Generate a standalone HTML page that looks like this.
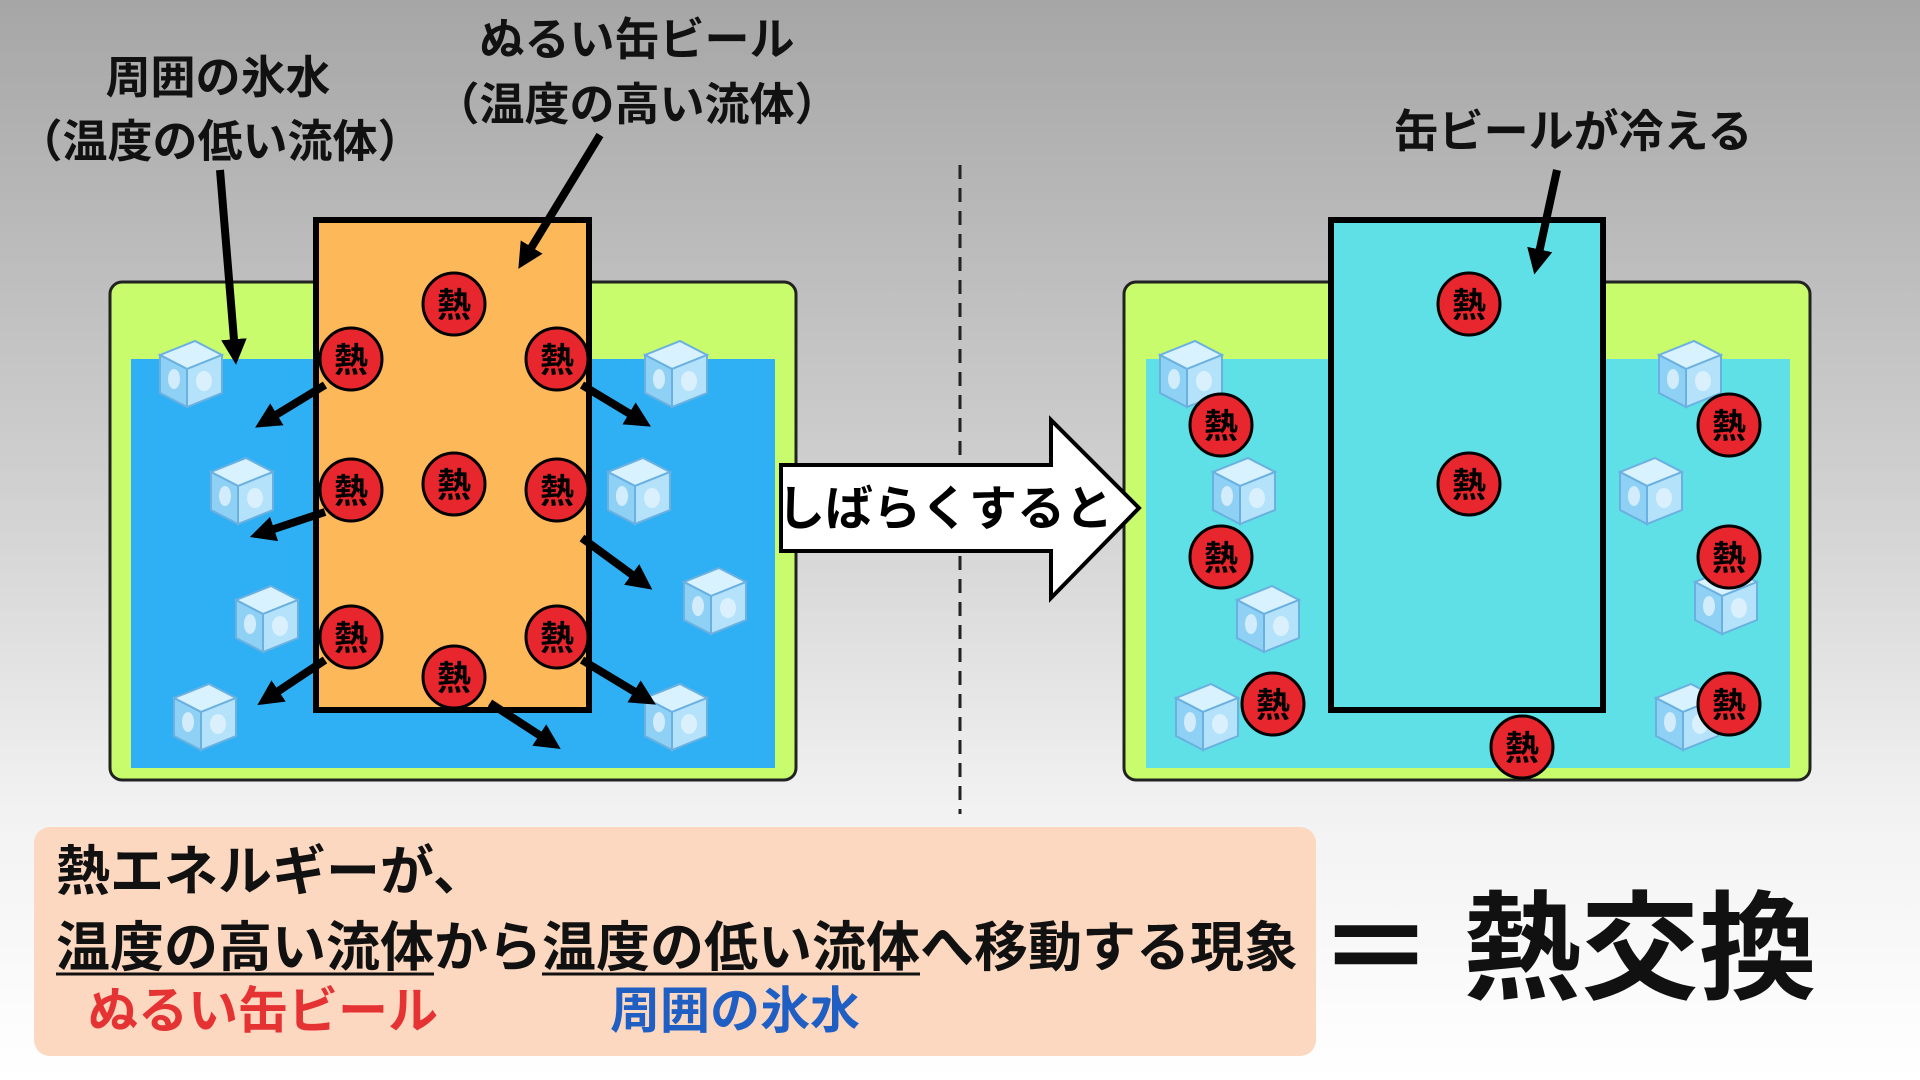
<!DOCTYPE html>
<html><head><meta charset="utf-8"><style>
html,body{margin:0;padding:0;width:1920px;height:1080px;overflow:hidden}
body{background:linear-gradient(#a6a6a6 0%,#d0d0d0 45%,#f2f2f2 75%,#ffffff 100%)}
svg{position:absolute;left:0;top:0}
text{font-family:"Liberation Sans","Noto Sans CJK JP",sans-serif;font-weight:bold}
</style></head><body>
<svg width="1920" height="1080" viewBox="0 0 1920 1080">
<defs>
<marker id="ah" viewBox="0 0 10 10" refX="5" refY="5" markerWidth="3.2" markerHeight="3.2" orient="auto">
<path d="M0,0 L10,5 L0,10 z" fill="#000"/></marker>
<g id="ice">
<polygon points="-30,-18 5,-32 32,-18 -3,-4" fill="#d8f2ff" stroke="#6ab0e0" stroke-width="2"/>
<polygon points="-30,-18 -3,-4 -3,34 -30,20" fill="#8fd0f5" stroke="#6ab0e0" stroke-width="2"/>
<polygon points="-3,-4 32,-18 32,20 -3,34" fill="#b4e2fb" stroke="#6ab0e0" stroke-width="2"/>
<ellipse cx="-16" cy="6" rx="6" ry="10" fill="#fff" opacity="0.6"/>
<ellipse cx="14" cy="8" rx="8" ry="10" fill="#fff" opacity="0.5"/>
</g>
<g id="heat">
<circle r="31" fill="#e8262d" stroke="#000" stroke-width="3"/>
<text x="0" y="13" text-anchor="middle" font-size="34" fill="#000">熱</text>
</g>
</defs>

<rect x="110" y="282" width="686" height="498" rx="12" fill="#c8fc6c" stroke="#222" stroke-width="3"/>
<rect x="131" y="359" width="644" height="409" fill="#2fb0f5"/>
<rect x="1124" y="282" width="686" height="498" rx="12" fill="#c8fc6c" stroke="#222" stroke-width="3"/>
<rect x="1146" y="359" width="644" height="409" fill="#5fdfe6"/>

<use href="#ice" x="190" y="373"/><use href="#ice" x="241" y="490"/><use href="#ice" x="266" y="618"/><use href="#ice" x="204" y="716"/>
<use href="#ice" x="675" y="373"/><use href="#ice" x="638" y="490"/><use href="#ice" x="714" y="600"/><use href="#ice" x="675" y="716"/>
<use href="#ice" x="1190" y="373"/><use href="#ice" x="1243" y="490"/><use href="#ice" x="1267" y="618"/><use href="#ice" x="1206" y="716"/>
<use href="#ice" x="1689" y="373"/><use href="#ice" x="1650" y="490"/><use href="#ice" x="1725" y="600"/><use href="#ice" x="1686" y="716"/>

<rect x="316" y="220" width="273" height="490" fill="#fdb85a" stroke="#000" stroke-width="6"/>
<rect x="1331" y="220" width="272" height="490" fill="#5fdfe6" stroke="#000" stroke-width="6"/>

<g stroke="#000" stroke-width="8" marker-end="url(#ah)" fill="none">
<line x1="325" y1="385" x2="266" y2="421"/>
<line x1="325" y1="512" x2="262" y2="533"/>
<line x1="325" y1="660" x2="268" y2="698"/>
<line x1="582" y1="385" x2="640" y2="420"/>
<line x1="582" y1="538" x2="642" y2="582"/>
<line x1="582" y1="660" x2="645" y2="698"/>
<line x1="490" y1="703" x2="550" y2="742"/>
<line x1="220" y1="170" x2="235" y2="352"/>
<line x1="600" y1="135" x2="525" y2="258"/>
<line x1="1557" y1="170" x2="1537" y2="262"/>
</g>

<use href="#heat" x="454" y="304"/><use href="#heat" x="351" y="359"/><use href="#heat" x="557" y="359"/>
<use href="#heat" x="351" y="490"/><use href="#heat" x="454" y="484"/><use href="#heat" x="557" y="490"/>
<use href="#heat" x="351" y="637"/><use href="#heat" x="557" y="637"/><use href="#heat" x="454" y="677"/>
<use href="#heat" x="1469" y="304"/><use href="#heat" x="1469" y="484"/>
<use href="#heat" x="1221" y="425"/><use href="#heat" x="1729" y="425"/>
<use href="#heat" x="1221" y="557"/><use href="#heat" x="1729" y="557"/>
<use href="#heat" x="1273" y="704"/><use href="#heat" x="1729" y="704"/>
<use href="#heat" x="1522" y="747"/>

<line x1="960" y1="165" x2="960" y2="814" stroke="#222" stroke-width="3" stroke-dasharray="14,9"/>

<polygon points="781,465 1051,465 1051,420 1139,508 1051,598 1051,551 781,551" fill="#fff" stroke="#000" stroke-width="4"/>
<text x="945" y="525" text-anchor="middle" font-size="48" fill="#000">しばらくすると</text>

<text x="218" y="93" text-anchor="middle" font-size="45" fill="#111">周囲の氷水</text>
<text x="220" y="157" text-anchor="middle" font-size="45" fill="#111">（温度の低い流体）</text>
<text x="637" y="55" text-anchor="middle" font-size="45" fill="#111">ぬるい缶ビール</text>
<text x="637" y="120" text-anchor="middle" font-size="45" fill="#111">（温度の高い流体）</text>
<text x="1573" y="147" text-anchor="middle" font-size="45" fill="#111">缶ビールが冷える</text>

<rect x="34" y="827" width="1282" height="229" rx="16" fill="#fdd8c0"/>
<text x="56" y="890" font-size="54" fill="#111">熱エネルギーが、</text>
<text x="56" y="966" font-size="54" fill="#111">温度の高い流体から温度の低い流体へ移動する現象</text>
<line x1="56" y1="974" x2="434" y2="974" stroke="#111" stroke-width="3"/>
<line x1="542" y1="974" x2="920" y2="974" stroke="#111" stroke-width="3"/>
<text x="88" y="1028" font-size="50" fill="#e53232">ぬるい缶ビール</text>
<text x="610" y="1028" font-size="50" fill="#1f5fc4">周囲の氷水</text>

<text x="1318" y="990" font-size="116" fill="#111">＝</text>
<text x="1463" y="990" font-size="118" fill="#111">熱交換</text>
</svg>
</body></html>
